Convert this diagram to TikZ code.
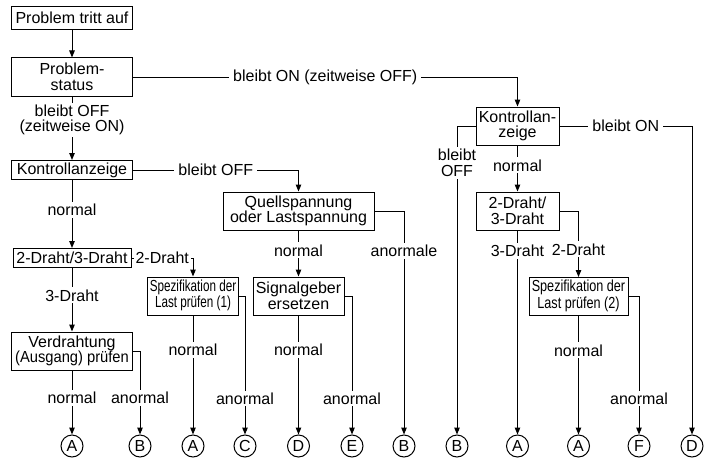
\documentclass[tikz,border=0pt]{standalone}
\usepackage{fontspec}
\setmainfont{Liberation Sans}
\usepackage{graphicx}
\usetikzlibrary{arrows.meta}

\newcommand{\narrow}[3]{\scalebox{#1}[1]{\begin{tabular}{@{}c@{}}#2\\#3\end{tabular}}}

\begin{document}
\begin{tikzpicture}[x=1pt, y=-1pt, font=\fontsize{16}{15.5}\selectfont,
        line width=1pt,
        box/.style={draw, inner sep=0pt, align=center,
                    minimum width=121pt, minimum height=38pt},
        lbl/.style={fill=white, inner xsep=4pt, inner ysep=2pt, align=center},
        endc/.style={draw, circle, minimum size=22pt, inner sep=0pt},
        arr/.style={-{Triangle[length=7pt,width=5.5pt]}}]
      \useasboundingbox (0,0) rectangle (722,460);
      % left column
      \node[box, minimum height=23pt] (prob) at (72,18) {Problem tritt auf};
      \node[box] (pstat) at (72,77) {Problem-\\status};
      \node[box, minimum height=19pt] (kontr) at (72,170) {Kontrollanzeige};
      \node[box, minimum width=118pt, minimum height=19pt] (dd) at (72,258) {2-Draht/3-Draht};
      \node[box] (verd) at (72,351) {Verdrahtung\\\scalebox{0.92}[1]{(Ausgang) prüfen}};
      % middle
      \node[box, minimum width=91pt] (spez1) at (193,296) {\narrow{0.73}{Spezifikation der}{Last prüfen (1)}};
      \node[box, minimum width=151pt] (quell) at (298.5,211) {Quellspannung\\oder Lastspannung};
      \node[box, minimum width=91pt] (signal) at (298.5,296) {Signalgeber\\ersetzen};
      % right
      \node[box, minimum width=83pt] (kontr2) at (517.5,126) {Kontrollan-\\zeige};
      \node[box, minimum width=83pt] (dd2) at (517.5,211) {2-Draht/\\3-Draht};
      \node[box, minimum width=99pt] (spez2) at (578.5,296.5) {\narrow{0.79}{Spezifikation der}{Last prüfen (2)}};
      % end points
      \node[endc] (a1) at (72,446) {A};
      \node[endc] (b1) at (140,446) {B};
      \node[endc] (a2) at (193,446) {A};
      \node[endc] (c1) at (245,446) {C};
      \node[endc] (d1) at (298.5,446) {D};
      \node[endc] (e1) at (352,446) {E};
      \node[endc] (b2) at (404,446) {B};
      \node[endc] (b3) at (457,446) {B};
      \node[endc] (a3) at (517.5,446) {A};
      \node[endc] (a4) at (578.5,446) {A};
      \node[endc] (f1) at (639,446) {F};
      \node[endc] (d2) at (692,446) {D};

      \draw[arr] (prob) -- (pstat);
      \draw[arr] (pstat) -- node[lbl, pos=0.37] {bleibt OFF\\(zeitweise ON)} (kontr);
      \draw[arr] (pstat.east) -| node[lbl, pos=0.25] {bleibt ON (zeitweise OFF)} (kontr2);
      \draw[arr] (kontr) -- node[lbl, pos=0.44] {normal} (dd);
      \draw[arr] (kontr.east) -| node[lbl, pos=0.25] {bleibt OFF} (quell);
      \draw[arr] (dd) -- node[lbl, pos=0.43] {3-Draht} (verd);
      \draw[arr] (dd.east) -| node[lbl, inner xsep=2pt, pos=0.25] {2-Draht} (spez1);
      \draw[arr] (verd) -- node[lbl, pos=0.43] {normal} (a1);
      \draw[arr] (verd.east) -| node[lbl, pos=0.78] {anormal} (b1);
      \draw[arr] (spez1) -- node[lbl, pos=0.29] {normal} (a2);
      \draw[arr] (spez1.east) -| node[lbl, pos=0.87] {anormal} (c1);
      \draw[arr] (quell) -- node[lbl, pos=0.43] {normal} (signal);
      \draw[arr] (quell.east) -| node[lbl, pos=0.59] {anormale} (b2);
      \draw[arr] (signal) -- node[lbl, pos=0.29] {normal} (d1);
      \draw[arr] (signal.east) -| node[lbl, pos=0.87] {anormal} (e1);
      \draw[arr] (kontr2.west) -| node[lbl, pos=0.56] {bleibt\\OFF} (b3);
      \draw[arr] (kontr2.east) -| node[lbl, pos=0.25] {bleibt ON} (d2);
      \draw[arr] (kontr2) -- node[lbl, pos=0.43] {normal} (dd2);
      \draw[arr] (dd2) -- node[lbl, pos=0.1] {3-Draht} (a3);
      \draw[arr] (dd2.east) -| node[lbl, pos=0.79] {2-Draht} (spez2);
      \draw[arr] (spez2) -- node[lbl, pos=0.29] {normal} (a4);
      \draw[arr] (spez2.east) -| node[lbl, pos=0.87] {anormal} (f1);
    \end{tikzpicture}
\end{document}
